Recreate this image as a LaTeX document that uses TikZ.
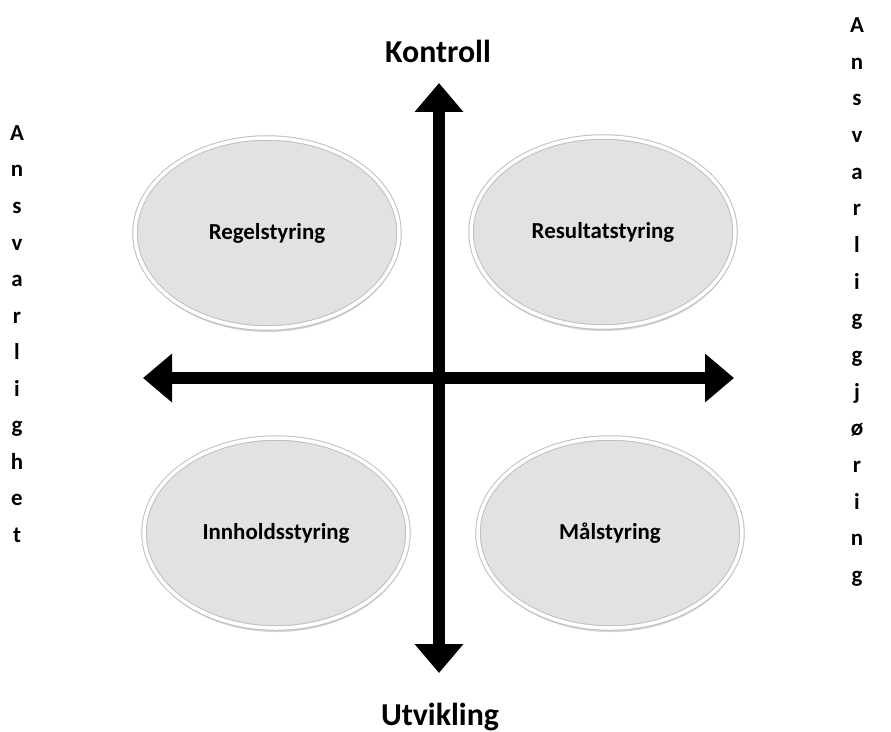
\documentclass[tikz,border=0pt]{standalone}
\usepackage{fontspec}
\setmainfont{Carlito}
\usetikzlibrary{positioning, shapes.geometric, arrows.meta, shadows}

\begin{document}
\begin{tikzpicture}[x=1bp, y=-1bp,
  axis/.style={line width=11.5bp, {Triangle[length=29bp, width=47bp]}-{Triangle[length=29bp, width=47bp]}},
  bubble/.style={ellipse, inner sep=0pt, minimum width=264bp, minimum height=190bp, fill=gray!23, draw=gray!50, line width=1bp, double=white, double distance=3.5bp, drop shadow={opacity=0.35, shadow xshift=0.5bp, shadow yshift=-4bp}, font=\fontsize{23}{28}\selectfont\bfseries},
  title/.style={anchor=base, font=\fontsize{32}{38}\selectfont\bfseries},
  letter/.style={text height=15bp, text depth=4bp, inner sep=0pt, font=\fontsize{23}{27}\selectfont\bfseries}]
\useasboundingbox (0,0) rectangle (891,732);
\coordinate (west) at (143,378);
\coordinate (east) at (734,378);
\coordinate (north) at (439,83);
\coordinate (south) at (439,673);
\draw [axis] (west) -- (east);
\draw [axis] (north) -- (south);
\node [title] (kontroll) at (438,63) {Kontroll};
\node [title] (utvikling) at (440,725) {Utvikling};
\node [bubble] (regel) at (267,233) {Regelstyring};
\node [bubble] (resultat) at (603,232) {Resultatstyring};
\node [bubble] (innhold) at (276,533) {Innholdsstyring};
\node [bubble] (maal) at (610,533) {Målstyring};
% loddrett tekst paa hver side
\foreach \c [count=\i] in {A,n,s,v,a,r,l,i,g,h,e,t}
  \node [letter] (ansvar-\i) at (17, {135+36.5*(\i-1)}) {\c};
\foreach \c [count=\i] in {A,n,s,v,a,r,l,i,g,g,j,ø,r,i,n,g}
  \node [letter] (ansgj-\i) at (857, {27+36.67*(\i-1)}) {\c};
\end{tikzpicture}
\end{document}
